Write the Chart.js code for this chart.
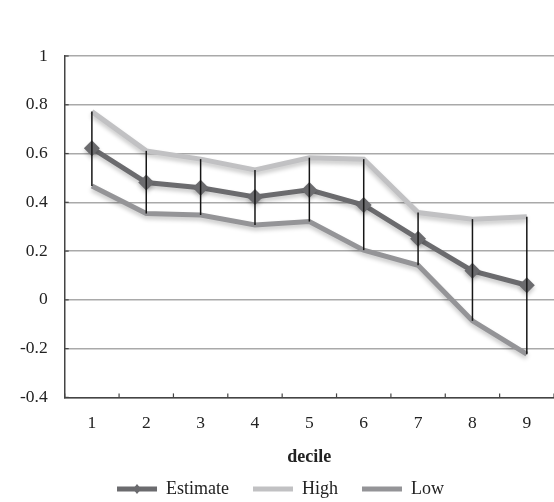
<!DOCTYPE html>
<html>
<head>
<meta charset="utf-8">
<script src="https://cdn.jsdelivr.net/npm/chart.js@4"></script>
<style>
  html, body { margin: 0; padding: 0; background: #fff; overflow: hidden; }
  #wrap { width: 562px; height: 502px; }
</style>
</head>
<body>
<div id="wrap"><canvas id="decileChart"></canvas></div>
<script>
const deciles = ['1', '2', '3', '4', '5', '6', '7', '8', '9'];
const estimate = [0.622, 0.481, 0.460, 0.422, 0.451, 0.389, 0.251, 0.119, 0.060];
const high = [0.772, 0.611, 0.577, 0.533, 0.583, 0.577, 0.358, 0.331, 0.341];
const low = [0.467, 0.354, 0.348, 0.307, 0.321, 0.204, 0.142, -0.086, -0.223];

const serif = '"Liberation Serif", "DejaVu Serif", serif';

// soft shadow under the lines, like the spreadsheet original
const lineShadow = {
    id: 'lineShadow',
    beforeDatasetDraw(chart) {
        const c = chart.ctx;
        c.save();
        c.shadowColor = 'rgba(0,0,0,0.22)';
        c.shadowBlur = 4;
        c.shadowOffsetY = 3;
    },
    afterDatasetDraw(chart) {
        chart.ctx.restore();
    }
};

// vertical bars from Low to High
const errorBars = {
    id: 'errorBars',
    afterDatasetsDraw(chart) {
        const c = chart.ctx;
        const hiPts = chart.getDatasetMeta(1).data;
        const loPts = chart.getDatasetMeta(2).data;
        c.save();
        c.strokeStyle = '#161616';
        c.lineWidth = 1.5;
        hiPts.forEach((p, i) => {
            c.beginPath();
            c.moveTo(p.x, p.y);
            c.lineTo(loPts[i].x, loPts[i].y);
            c.stroke();
        });
        c.restore();
    }
};

// small inside tick marks on both axes + diamond in the legend swatch
const axisBits = {
    id: 'axisBits',
    afterDraw(chart) {
        const c = chart.ctx;
        const x = chart.scales.x, y = chart.scales.y;
        c.save();
        c.strokeStyle = '#444';
        c.lineWidth = 1.2;
        for (let i = 0; i <= deciles.length; i++) {
            const px = x.getPixelForValue(i - 0.5);
            c.beginPath();
            c.moveTo(px, y.bottom);
            c.lineTo(px, y.bottom - 4);
            c.stroke();
        }
        y.ticks.forEach(t => {
            const py = y.getPixelForValue(t.value);
            c.beginPath();
            c.moveTo(x.left, py);
            c.lineTo(x.left + 4, py);
            c.stroke();
        });
        const box = chart.legend.legendHitBoxes[0];
        if (box) {
            const cx = box.left + 20, cy = box.top + box.height / 2;
            c.fillStyle = '#6b6b6e';
            c.beginPath();
            c.moveTo(cx, cy - 5);
            c.lineTo(cx + 4, cy);
            c.lineTo(cx, cy + 5);
            c.lineTo(cx - 4, cy);
            c.closePath();
            c.fill();
        }
        c.restore();
    }
};

new Chart(document.getElementById('decileChart'), {
    type: 'line',
    data: {
        labels: deciles,
        datasets: [{
            label: 'Estimate',
            data: estimate,
            borderColor: '#6b6b6e',
            backgroundColor: '#6b6b6e',
            borderWidth: 5,
            pointStyle: 'rectRot',
            pointRadius: 8,
            pointBorderWidth: 0,
            tension: 0,
            fill: false
        }, {
            label: 'High',
            data: high,
            borderColor: '#c1c1c3',
            backgroundColor: '#c1c1c3',
            borderWidth: 5,
            pointRadius: 0,
            tension: 0,
            fill: false
        }, {
            label: 'Low',
            data: low,
            borderColor: '#949497',
            backgroundColor: '#949497',
            borderWidth: 5,
            pointRadius: 0,
            tension: 0,
            fill: false
        }]
    },
    options: {
        responsive: true,
        maintainAspectRatio: false,
        animation: false,
        layout: { padding: { top: 56, right: 4, left: 3, bottom: -6 } },
        plugins: {
            tooltip: { enabled: false },
            legend: {
                position: 'bottom',
                labels: {
                    usePointStyle: true,
                    pointStyle: 'line',
                    pointStyleWidth: 40,
                    boxHeight: 5,
                    padding: 24,
                    color: '#222',
                    font: { family: serif, size: 18 },
                    generateLabels(chart) {
                        return chart.data.datasets.map((ds, i) => ({
                            text: ds.label,
                            fillStyle: ds.borderColor,
                            strokeStyle: ds.borderColor,
                            lineWidth: 5,
                            pointStyle: 'line',
                            datasetIndex: i,
                            fontColor: '#222'
                        }));
                    }
                }
            }
        },
        scales: {
            x: {
                offset: true,
                grid: { display: false, drawTicks: false },
                border: { color: '#444', width: 1.5 },
                ticks: { color: '#222', padding: 16, font: { family: serif, size: 17.5 } },
                title: {
                    display: true,
                    text: 'decile',
                    color: '#222',
                    padding: { top: -4, bottom: -12 },
                    font: { family: serif, size: 18, weight: 'bold' }
                }
            },
            y: {
                min: -0.4,
                max: 1,
                grid: { color: '#a9a9a9', lineWidth: 1.5, drawTicks: false },
                border: { color: '#444', width: 1.5 },
                ticks: {
                    stepSize: 0.2,
                    padding: 17,
                    color: '#222',
                    font: { family: serif, size: 17.5 },
                    callback: v => String(parseFloat(v.toFixed(1)))
                }
            }
        }
    },
    plugins: [lineShadow, errorBars, axisBits]
});
</script>
</body>
</html>
